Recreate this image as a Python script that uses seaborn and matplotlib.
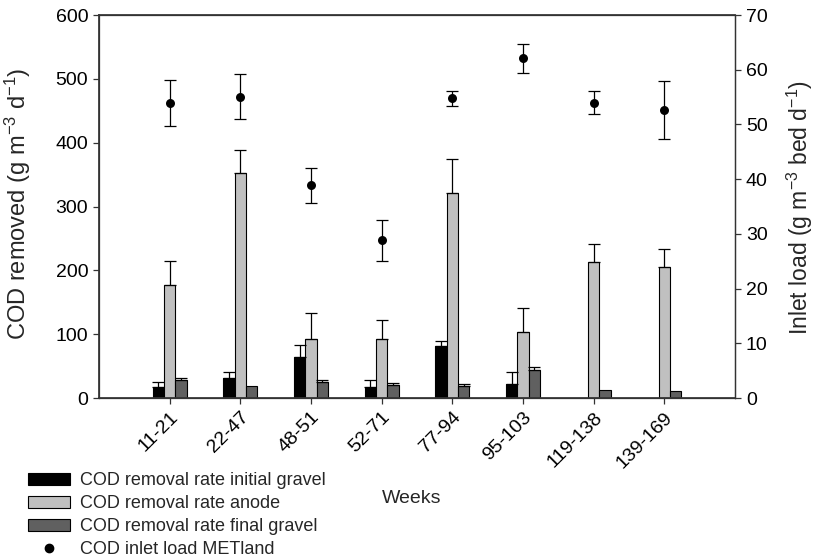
import numpy as np
import pandas as pd
import matplotlib
matplotlib.use("Agg")
import matplotlib.pyplot as plt
from matplotlib.patches import Patch
from matplotlib.lines import Line2D
import seaborn as sns

# Sampling periods (weeks)
weeks = ["11-21", "22-47", "48-51", "52-71", "77-94", "95-103", "119-138", "139-169"]

# COD removal rates (g m-3 d-1) and their upper error (SD)
initial_gravel = [17, 31, 64, 18, 81, 22, np.nan, np.nan]
initial_gravel_err = [8, 10, 19, 11, 9, 19, np.nan, np.nan]
anode = [177, 352, 92, 93, 322, 104, 213, 206]
anode_err = [37, 37, 41, 29, 52, 37, 29, 28]
final_gravel = [29, 19, 25, 20, 19, 44, 13, 11]
final_gravel_err = [3, 0, 4, 3, 3, 4, 0, 0]

# COD inlet load METland (g m-3 bed d-1) with SD
inlet_load = [54.0, 55.1, 38.9, 28.8, 54.8, 62.1, 54.0, 52.6]
inlet_load_err = [4.2, 4.1, 3.2, 3.7, 1.35, 2.6, 2.1, 5.3]

series_names = ["COD removal rate initial gravel",
                "COD removal rate anode",
                "COD removal rate final gravel"]
series_colors = ["#000000", "#c0c0c0", "#606060"]

sns.set_theme(style="ticks")
plt.rcParams["font.family"] = ["Liberation Sans", "DejaVu Sans"]
plt.rcParams["mathtext.default"] = "regular"
plt.rcParams["axes.edgecolor"] = "#333333"
plt.rcParams["xtick.color"] = "#333333"
plt.rcParams["ytick.color"] = "#333333"
plt.rcParams["xtick.labelcolor"] = "black"
plt.rcParams["ytick.labelcolor"] = "black"

df = pd.DataFrame({
    "Weeks": weeks * 3,
    "series": np.repeat(series_names, len(weeks)),
    "value": initial_gravel + anode + final_gravel,
})

fig = plt.figure(figsize=(8.18, 5.59), dpi=100)
ax = fig.add_axes([0.121, 0.288, 0.7775, 0.685])

bar_width = 0.48
sns.barplot(data=df, x="Weeks", y="value", hue="series", order=weeks,
            hue_order=series_names, palette=series_colors, width=bar_width,
            gap=0, errorbar=None, edgecolor="black", linewidth=0.8,
            legend=False, ax=ax)

# upward-only error bars on each bar
step = bar_width / 3
offsets = [-step, 0, step]
x_idx = np.arange(len(weeks))
for vals, errs, off in zip([initial_gravel, anode, final_gravel],
                           [initial_gravel_err, anode_err, final_gravel_err],
                           offsets):
    vals = np.asarray(vals, float)
    errs = np.asarray(errs, float)
    ok = ~np.isnan(vals) & (errs > 0)
    ax.errorbar(x_idx[ok] + off, vals[ok],
                yerr=[np.zeros(ok.sum()), errs[ok]],
                fmt="none", ecolor="black", elinewidth=0.9, capsize=4,
                capthick=0.9, zorder=1)

ax.set_xlim(-1, len(weeks))
ax.set_ylim(0, 600)
ax.set_yticks(np.arange(0, 601, 100))
ax.set_ylabel("COD removed (g m$^{-3}$ d$^{-1}$)", fontsize=17)
ax.yaxis.set_label_coords(-0.104, 0.508)
ax.set_xlabel("Weeks", fontsize=14)
ax.xaxis.set_label_coords(0.491, -0.240)
ax.set_xticks(x_idx)
ax.set_xticklabels(weeks, rotation=45, ha="right", rotation_mode="anchor")
ax.tick_params(axis="both", labelsize=14, length=4.3, width=0.9, direction="out")
for s in ax.spines.values():
    s.set_visible(True)
    s.set_linewidth(0.9)

# inlet load on the secondary axis
ax2 = ax.twinx()
ax2.errorbar(x_idx, inlet_load, yerr=inlet_load_err, fmt="none",
             ecolor="black", elinewidth=0.9, capsize=4.5, capthick=0.9)
sns.scatterplot(x=x_idx, y=inlet_load, color="black", s=42,
                edgecolor="black", linewidth=0, ax=ax2, zorder=3)
ax2.set_ylim(0, 70)
ax2.set_yticks(np.arange(0, 71, 10))
ax2.set_ylabel("Inlet load (g m$^{-3}$ bed d$^{-1}$)", fontsize=16.5, rotation=90)
ax2.yaxis.set_label_coords(1.079, 0.497)
ax2.tick_params(axis="y", labelsize=14, length=4.3, width=0.9, direction="out")
ax2.spines["right"].set_linewidth(0.9)
ax.set_xlim(-1, len(weeks))

handles = [Patch(facecolor=c, edgecolor="black", linewidth=0.8)
           for c in series_colors]
handles.append(Line2D([], [], marker="o", color="black", linestyle="none",
                      markersize=6))
labels = series_names + ["COD inlet load METland"]
fig.legend(handles, labels, loc="upper left",
           bbox_to_anchor=(0.034, 0.155), frameon=False, fontsize=13,
           handlelength=2.33, handleheight=0.65, labelspacing=0.32,
           handletextpad=0.55, borderaxespad=0, borderpad=0)

fig.savefig("out.png", dpi=100)
